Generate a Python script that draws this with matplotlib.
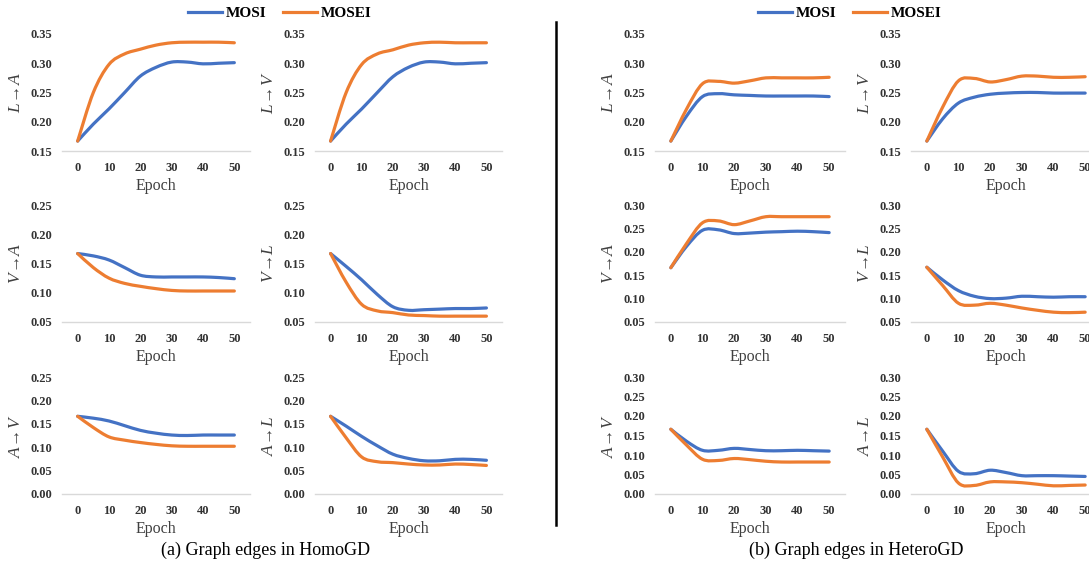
import matplotlib
matplotlib.use("Agg")
import matplotlib.pyplot as plt
import numpy as np
from matplotlib.path import Path
from matplotlib.patches import PathPatch
from matplotlib.lines import Line2D

plt.rcParams['font.family'] = 'Liberation Serif'
plt.rcParams['mathtext.fontset'] = 'custom'
plt.rcParams['mathtext.rm'] = 'Liberation Serif'
plt.rcParams['mathtext.it'] = 'Liberation Serif:italic'

epochs = [0, 5, 10, 15, 20, 25, 30, 35, 40, 45, 50]
xticks = [0, 10, 20, 30, 40, 50]

# HomoGD
homo_labels = [r"$L\!\rightarrow\!A$", r"$L\!\rightarrow\!V$",
               r"$V\!\rightarrow\!A$", r"$V\!\rightarrow\!L$",
               r"$A\!\rightarrow\!V$", r"$A\!\rightarrow\!L$"]
homo_mosi = [
    [0.167, 0.196, 0.222, 0.250, 0.278, 0.293, 0.302, 0.302, 0.299, 0.300, 0.301],
    [0.167, 0.196, 0.222, 0.250, 0.277, 0.293, 0.302, 0.302, 0.299, 0.300, 0.301],
    [0.167, 0.163, 0.156, 0.143, 0.130, 0.127, 0.127, 0.127, 0.127, 0.126, 0.124],
    [0.167, 0.145, 0.122, 0.097, 0.076, 0.070, 0.071, 0.072, 0.073, 0.073, 0.074],
    [0.166, 0.162, 0.156, 0.146, 0.136, 0.130, 0.126, 0.125, 0.126, 0.126, 0.126],
    [0.166, 0.145, 0.123, 0.103, 0.085, 0.076, 0.071, 0.071, 0.074, 0.074, 0.072],
]
homo_mosei = [
    [0.167, 0.250, 0.298, 0.316, 0.324, 0.331, 0.335, 0.336, 0.336, 0.336, 0.335],
    [0.167, 0.250, 0.298, 0.316, 0.323, 0.331, 0.335, 0.336, 0.335, 0.335, 0.335],
    [0.167, 0.143, 0.125, 0.116, 0.111, 0.107, 0.104, 0.103, 0.103, 0.103, 0.103],
    [0.167, 0.118, 0.080, 0.069, 0.066, 0.062, 0.061, 0.060, 0.060, 0.060, 0.060],
    [0.166, 0.142, 0.122, 0.115, 0.110, 0.106, 0.103, 0.102, 0.102, 0.102, 0.102],
    [0.166, 0.120, 0.079, 0.069, 0.067, 0.064, 0.062, 0.062, 0.064, 0.063, 0.061],
]
homo_yticks = [[0.15, 0.20, 0.25, 0.30, 0.35],
               [0.05, 0.10, 0.15, 0.20, 0.25],
               [0.00, 0.05, 0.10, 0.15, 0.20, 0.25]]

# HeteroGD
hetero_labels = homo_labels
hetero_mosi = [
    [0.167, 0.210, 0.243, 0.248, 0.246, 0.245, 0.244, 0.244, 0.244, 0.244, 0.243],
    [0.167, 0.205, 0.232, 0.242, 0.247, 0.249, 0.250, 0.250, 0.249, 0.249, 0.249],
    [0.166, 0.212, 0.246, 0.247, 0.239, 0.240, 0.242, 0.243, 0.244, 0.243, 0.241],
    [0.167, 0.140, 0.117, 0.105, 0.100, 0.101, 0.105, 0.104, 0.103, 0.104, 0.104],
    [0.166, 0.135, 0.112, 0.112, 0.117, 0.114, 0.111, 0.111, 0.112, 0.111, 0.110],
    [0.166, 0.110, 0.058, 0.052, 0.061, 0.055, 0.047, 0.047, 0.047, 0.046, 0.045],
]
hetero_mosei = [
    [0.167, 0.222, 0.265, 0.269, 0.266, 0.270, 0.275, 0.275, 0.275, 0.275, 0.276],
    [0.167, 0.225, 0.270, 0.274, 0.268, 0.272, 0.278, 0.278, 0.276, 0.276, 0.277],
    [0.166, 0.218, 0.262, 0.266, 0.258, 0.266, 0.275, 0.275, 0.275, 0.275, 0.275],
    [0.167, 0.128, 0.090, 0.086, 0.090, 0.086, 0.080, 0.075, 0.071, 0.070, 0.071],
    [0.166, 0.125, 0.089, 0.086, 0.091, 0.088, 0.084, 0.082, 0.082, 0.082, 0.082],
    [0.166, 0.095, 0.028, 0.022, 0.031, 0.031, 0.029, 0.025, 0.021, 0.022, 0.023],
]
hetero_yticks = [[0.15, 0.20, 0.25, 0.30, 0.35],
                 [0.05, 0.10, 0.15, 0.20, 0.25, 0.30],
                 [0.00, 0.05, 0.10, 0.15, 0.20, 0.25, 0.30]]

series_names = ["MOSI", "MOSEI"]
colors = ["#4472C4", "#ED7D31"]
captions = ["(a) Graph edges in HomoGD", "(b) Graph edges in HeteroGD"]


def smooth_path(x, y):
    # Excel-style smoothed line: cubic Bezier segments through the points
    pts = np.column_stack([x, y])
    n = len(pts)
    verts = [pts[0]]
    codes = [Path.MOVETO]
    for i in range(n - 1):
        p0 = pts[i - 1] if i > 0 else pts[i]
        p3 = pts[i + 2] if i + 2 < n else pts[i + 1]
        c1 = pts[i] + (pts[i + 1] - p0) / 6.0
        c2 = pts[i + 1] - (p3 - pts[i]) / 6.0
        verts += [c1, c2, pts[i + 1]]
        codes += [Path.CURVE4] * 3
    return Path(verts, codes)


W, H = 1089, 563
fig = plt.figure(figsize=(W / 100, H / 100), dpi=100)

cols_px = [[(62, 250), (315, 502)], [(655, 845), (911, 1101)]]
rows_px = [(34, 151), (205, 322), (377, 494)]

panels = [(homo_labels, homo_mosi, homo_mosei, homo_yticks),
          (hetero_labels, hetero_mosi, hetero_mosei, hetero_yticks)]

for p, (labels, mosi, mosei, yticks) in enumerate(panels):
    for r in range(3):
        for c in range(2):
            k = r * 2 + c
            x0, x1 = cols_px[p][c]
            y0, y1 = rows_px[r]
            ax = fig.add_axes([x0 / W, 1 - y1 / H, (x1 - x0) / W, (y1 - y0) / H])
            for vals, col in zip([mosi[k], mosei[k]], colors):
                ax.add_patch(PathPatch(smooth_path(epochs, vals), fill=False,
                                       edgecolor=col, lw=2.3, capstyle='round',
                                       joinstyle='round'))
            ax.set_xlim(-5, 55)
            ax.set_ylim(yticks[r][0], yticks[r][-1])
            ax.set_xticks(xticks)
            ax.set_yticks(yticks[r])
            ax.set_yticklabels([f"{t:.2f}" for t in yticks[r]])
            for s in ['top', 'right', 'left']:
                ax.spines[s].set_visible(False)
            ax.spines['bottom'].set_color('#D9D9D9')
            ax.spines['bottom'].set_linewidth(1)
            ax.tick_params(length=0, labelsize=9, colors='#333333')
            ax.tick_params(axis='x', pad=8)
            ax.tick_params(axis='y', pad=7)
            for t in ax.get_xticklabels() + ax.get_yticklabels():
                t.set_fontweight('bold')
            ax.set_xlabel("Epoch", fontsize=11.5, color='#404040', labelpad=3)
            ax.set_ylabel(labels[k], fontsize=12.5, color='#404040', labelpad=5)

handles = [Line2D([], [], color=col, lw=2.3) for col in colors]
for cx in [280, 850]:
    fig.legend(handles, series_names, loc='center', bbox_to_anchor=(cx / W, 1 - 13 / H),
               ncol=2, frameon=False, handlelength=2.2, handletextpad=0.25,
               columnspacing=1.1, prop={'weight': 'bold', 'size': 11})

fig.add_artist(Line2D([556 / W, 556 / W], [1 - 22 / H, 1 - 525 / H], color='black', lw=1.8))

for cx, cap in zip([266, 856], captions):
    fig.text(cx / W, 1 - 550 / H, cap, ha='center', va='center', fontsize=13)

fig.savefig("out.png", dpi=100)
